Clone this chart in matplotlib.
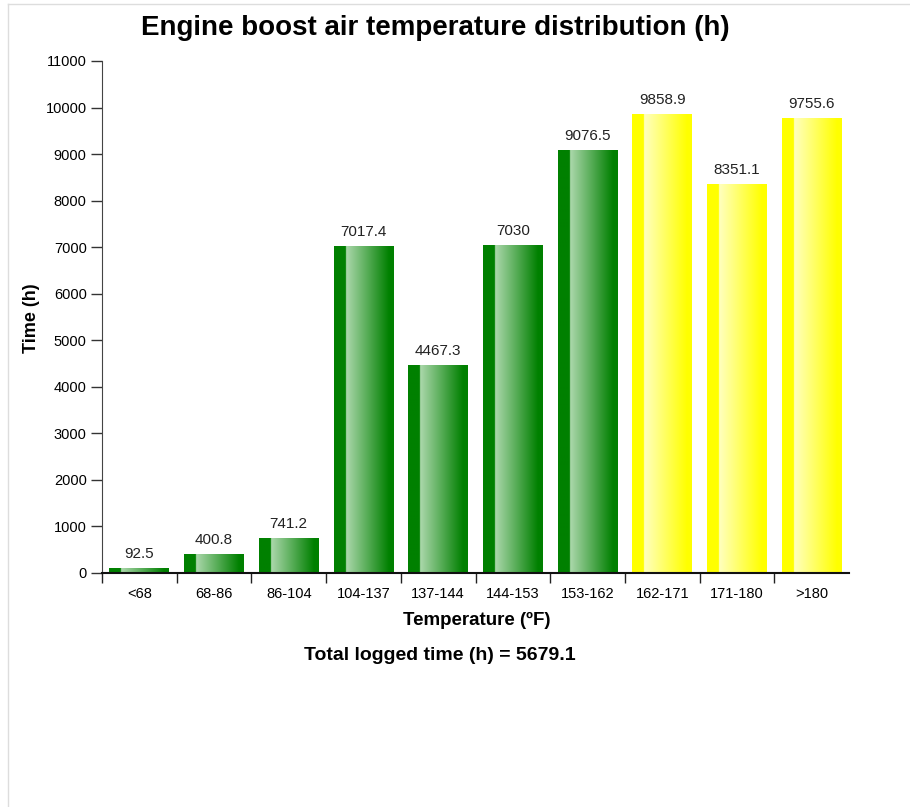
import matplotlib
matplotlib.use('Agg')
import matplotlib.pyplot as plt
import numpy as np
from matplotlib.colors import to_rgb
from matplotlib.lines import Line2D

categories = ['<68', '68-86', '86-104', '104-137', '137-144', '144-153',
              '153-162', '162-171', '171-180', '>180']
hours = [92.5, 400.8, 741.2, 7017.4, 4467.3, 7030, 9076.5, 9858.9, 8351.1, 9755.6]
labels = ['92.5', '400.8', '741.2', '7017.4', '4467.3', '7030', '9076.5',
          '9858.9', '8351.1', '9755.6']
hot = [False] * 7 + [True] * 3
total = '5679.1'

plt.rcParams['font.family'] = ['Liberation Sans', 'DejaVu Sans']


def gradient(base, light):
    base = np.array(to_rgb(base))
    light = np.array(to_rgb(light))
    n = 200
    t = np.linspace(0, 1, n)
    img = np.zeros((1, n, 3))
    for i, v in enumerate(t):
        if v < 0.2:
            img[0, i] = base
        else:
            f = min((v - 0.2) / 0.72, 1.0)
            img[0, i] = light * (1 - f) + base * f
    return img


green_img = gradient('#008000', '#acd8ac')
yellow_img = gradient('#ffff00', '#ffffc0')

fig = plt.figure(figsize=(9.1, 8.07), dpi=100)
ax = fig.add_axes([102 / 910, 1 - 573 / 807, 747 / 910, 512 / 807])

x = np.arange(len(categories)) + 0.5
bars = ax.bar(x, hours, width=0.8, color='none', edgecolor='none')
for b, h, lab in zip(bars, hot, labels):
    x0, w, hgt = b.get_x(), b.get_width(), b.get_height()
    ax.imshow(yellow_img if h else green_img, extent=[x0, x0 + w, 0, hgt],
              aspect='auto', zorder=2, interpolation='bilinear')
    ax.text(x0 + w / 2, hgt + 160, lab, ha='center', va='bottom',
            fontsize=11, color='#222222')

ax.set_xlim(0, len(categories))
ax.set_ylim(0, 11000)
ax.set_yticks(np.arange(0, 11001, 1000))
ax.set_xticks(np.arange(0, len(categories)))
ax.set_xticklabels([])
ax.set_xticks(x, minor=True)
ax.set_xticklabels(categories, minor=True, fontsize=10.5)
ax.tick_params(axis='x', which='major', direction='out', length=7, width=1, color='#222222')
ax.tick_params(axis='x', which='minor', length=0, pad=10)
ax.tick_params(axis='y', direction='out', length=8, width=1, color='#333333', labelsize=10.5, pad=3)

for s in ['top', 'right']:
    ax.spines[s].set_visible(False)
ax.spines['left'].set_color('#444444')
ax.spines['bottom'].set_color('#111111')
ax.spines['bottom'].set_linewidth(1.5)

fig.text(435 / 910, 1 - 28 / 807, 'Engine boost air temperature distribution (h)',
         ha='center', va='center', fontsize=20, fontweight='bold')
fig.text(477 / 910, 1 - 620 / 807, 'Temperature (ºF)', ha='center', va='center',
         fontsize=13.5, fontweight='bold')
fig.text(440 / 910, 1 - 656 / 807, 'Total logged time (h) = ' + total, ha='center',
         va='center', fontsize=14, fontweight='bold')
fig.text(32 / 910, 1 - 318 / 807, 'Time (h)', ha='center', va='center',
         rotation=90, fontsize=13, fontweight='bold')

fig.add_artist(Line2D([8 / 910, 8 / 910], [0, 1 - 4 / 807], color='#dddddd', lw=1))
fig.add_artist(Line2D([8 / 910, 1], [1 - 4 / 807, 1 - 4 / 807], color='#dddddd', lw=1))

fig.savefig('out.png', dpi=100)
